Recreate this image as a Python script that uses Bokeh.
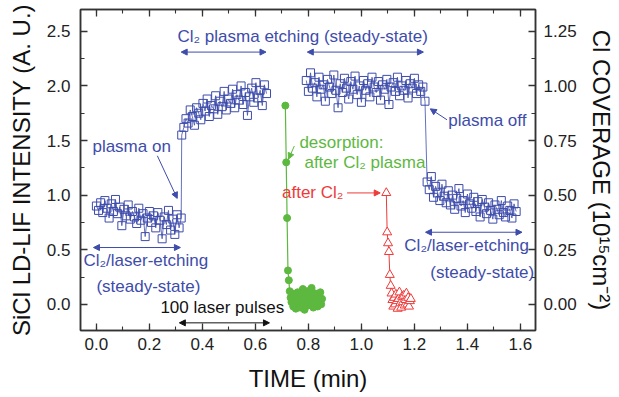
import numpy as np
from bokeh.plotting import figure
from bokeh.models import (Range1d, LinearAxis, SingleIntervalTicker, NumeralTickFormatter,
                          CustomJSTickFormatter, Label, Arrow, NormalHead, ColumnDataSource)
from bokeh.embed import file_html
from bokeh.resources import INLINE

FONT = "Liberation Sans"
BLUE = "#3e4cab"
GREEN = "#5db83f"
RED = "#ee3a3a"

# --- SiCl LD-LIF signal, Cl2/laser etching then plasma on (min, A.U.) ---
laser_t0, laser_dt = 0.000, 0.008
laser_vals = [0.90, 0.86, 0.93, 0.84, 0.95, 0.88, 0.79, 0.92, 0.85, 0.96, 0.83, 0.89,
              0.72, 0.87, 0.81, 0.91, 0.78, 0.85, 0.80, 0.74, 0.88, 0.77, 0.83, 0.62,
              0.79, 0.85, 0.75, 0.81, 0.70, 0.84, 0.77, 0.60, 0.80, 0.73, 0.86, 0.68,
              0.78, 0.64, 0.82, 0.70, 0.79]
plasma_t0, plasma_dt = 0.322, 0.008
plasma_vals = [1.55, 1.62, 1.70, 1.66, 1.78, 1.72, 1.64, 1.80, 1.75, 1.69, 1.84, 1.77,
               1.88, 1.72, 1.82, 1.79, 1.91, 1.74, 1.86, 1.81, 1.95, 1.78, 1.88, 1.84,
               1.97, 1.80, 1.92, 1.87, 2.00, 1.83, 1.94, 1.73, 1.90, 1.98, 1.85, 2.03,
               1.89, 1.96, 1.82, 2.01, 1.93]

# --- plasma etching (steady state) and plasma off ---
steady_t0, steady_dt = 0.792, 0.008
steady_vals = [2.05, 1.95, 2.12, 1.98, 2.03, 1.90, 2.08, 1.97, 2.01, 1.86, 2.06, 1.99,
               1.93, 2.10, 1.96, 1.80, 2.02, 1.94, 2.07, 1.98, 1.88, 2.04, 1.97, 2.09,
               1.92, 2.00, 1.85, 2.05, 1.96, 2.02, 1.90, 2.08, 1.99, 1.94, 2.04, 1.87,
               2.01, 1.97, 2.06, 1.83, 1.99, 2.03, 1.95, 2.08, 1.91, 2.00, 1.96, 2.05,
               1.89, 2.02, 1.98, 2.07, 1.93, 2.01, 1.95, 1.99, 1.86]
off_t0, off_dt = 1.248, 0.008
off_vals = [1.12, 1.05, 1.17, 0.98, 1.08, 1.02, 0.95, 1.10, 0.99, 0.93, 1.04, 0.91,
            1.00, 0.87, 0.97, 1.06, 0.90, 0.95, 0.84, 1.01, 0.92, 0.88, 0.98, 0.85,
            0.94, 0.80, 0.96, 0.89, 0.83, 0.93, 0.86, 0.78, 0.91, 0.87, 0.82, 0.95,
            0.84, 0.80, 0.90, 0.86, 0.79, 0.92, 0.85]

# --- desorption after Cl2 plasma (one point per laser pulse) ---
desorb_t0, pulse_dt = 0.713, 0.0033
desorb_vals = [1.82, 1.30, 0.79, 0.31, 0.22, 0.12, 0.06, 0.02, 0.10, -0.02, 0.05, 0.08,
               -0.04, 0.03, 0.11, 0.00, 0.06, -0.03, 0.09, 0.04, 0.14, 0.01, -0.05, 0.07,
               0.02, 0.12, -0.01, 0.05, 0.09, 0.00, 0.15, 0.03, -0.03, 0.06, 0.10, 0.01,
               0.04, -0.02, 0.08, 0.03, 0.11, 0.00, 0.05]

# --- desorption after Cl2 exposure only ---
cl2_t0 = 1.094
cl2_vals = [1.02, 0.66, 0.56, 0.48, 0.27, 0.17, 0.10, 0.04, -0.02, 0.06, 0.00, 0.09,
            0.03, -0.04, 0.05, 0.11, 0.01, -0.03, 0.07, 0.02, 0.08, -0.01, 0.04, 0.10,
            0.00, 0.06, -0.02, 0.03, 0.05]


def times(t0, dt, vals):
    return t0 + dt * np.arange(len(vals))


on_src = ColumnDataSource(dict(
    t=np.concatenate([times(laser_t0, laser_dt, laser_vals), times(plasma_t0, plasma_dt, plasma_vals)]),
    y=laser_vals + plasma_vals))
off_src = ColumnDataSource(dict(
    t=np.concatenate([times(steady_t0, steady_dt, steady_vals), times(off_t0, off_dt, off_vals)]),
    y=steady_vals + off_vals))
desorb_src = ColumnDataSource(dict(t=times(desorb_t0, pulse_dt, desorb_vals), y=desorb_vals))
cl2_src = ColumnDataSource(dict(t=times(cl2_t0, pulse_dt, cl2_vals), y=cl2_vals))

p = figure(width=619, height=397, x_range=Range1d(-0.06, 1.657), y_range=Range1d(-0.24, 2.70),
           output_backend="svg", toolbar_location=None,
           min_border_left=80, min_border_right=84, min_border_top=9, min_border_bottom=67)
p.grid.visible = False
p.outline_line_color = "#333333"
p.outline_line_width = 1.5
p.background_fill_color = "white"
p.border_fill_color = "white"
p.extra_y_ranges = {"cov": Range1d(-0.12, 1.35)}


def style_axis(ax, tick_font="17px"):
    ax.axis_line_color = "#333333"
    ax.axis_line_width = 1.5
    ax.major_tick_line_color = "#333333"
    ax.minor_tick_line_color = "#333333"
    ax.major_tick_line_width = 1.3
    ax.minor_tick_line_width = 1.1
    ax.major_tick_in = 7
    ax.major_tick_out = 0
    ax.minor_tick_in = 4
    ax.minor_tick_out = 0
    ax.major_label_text_font = FONT
    ax.major_label_text_font_size = tick_font
    ax.major_label_text_color = "#222222"
    ax.axis_label_text_font = FONT
    ax.axis_label_text_font_size = "24px"
    ax.axis_label_text_font_style = "normal"
    ax.axis_label_text_color = "#111111"


xa = p.xaxis[0]
xa.ticker = SingleIntervalTicker(interval=0.2, num_minor_ticks=2)
xa.formatter = NumeralTickFormatter(format="0.0")
xa.axis_label = "TIME (min)"
style_axis(xa)
xa.major_label_standoff = 7
xa.axis_label_standoff = 12

ya = p.yaxis[0]
ya.ticker = SingleIntervalTicker(interval=0.5, num_minor_ticks=2)
ya.formatter = NumeralTickFormatter(format="0.0")
ya.axis_label = "SiCl LD-LIF INTENSITY (A. U.)"
style_axis(ya)
ya.major_label_standoff = 10
ya.axis_label_standoff = 9

ra = LinearAxis(y_range_name="cov", axis_label="Cl COVERAGE (10¹⁵cm⁻²)",
                ticker=SingleIntervalTicker(interval=0.25, num_minor_ticks=2),
                formatter=NumeralTickFormatter(format="0.00"))
style_axis(ra)
ra.major_label_standoff = 8
ra.axis_label_standoff = 8
p.add_layout(ra, "right")

# top edge carries tick marks only
ta = LinearAxis(ticker=SingleIntervalTicker(interval=0.2, num_minor_ticks=2),
                formatter=CustomJSTickFormatter(code="return ''"))
style_axis(ta)
ta.major_label_standoff = 0
p.add_layout(ta, "above")

# data series
p.line("t", "y", source=on_src, color=BLUE, line_width=0.8)
p.scatter("t", "y", source=on_src, marker="square", size=8, line_color=BLUE, fill_alpha=0, line_width=1)
p.line("t", "y", source=off_src, color=BLUE, line_width=0.8)
p.scatter("t", "y", source=off_src, marker="square", size=8, line_color=BLUE, fill_alpha=0, line_width=1)
p.line("t", "y", source=desorb_src, color=GREEN, line_width=1.2)
p.scatter("t", "y", source=desorb_src, marker="circle", size=7, line_color=GREEN, fill_color=GREEN)
p.line("t", "y", source=cl2_src, color=RED, line_width=1)
p.scatter("t", "y", source=cl2_src, marker="triangle", size=9, line_color=RED, fill_color="white", line_width=1)

# annotation text
labels = [
    ("Cl₂ plasma etching (steady-state)", 0.306, 2.455, "left", BLUE),
    ("plasma on", -0.015, 1.445, "left", BLUE),
    ("plasma off", 1.328, 1.683, "left", BLUE),
    ("Cl₂/laser-etching", -0.049, 0.405, "left", BLUE),
    ("(steady-state)", 0.0, 0.165, "left", BLUE),
    ("Cl₂/laser-etching", 1.162, 0.54, "left", BLUE),
    ("(steady-state)", 1.26, 0.293, "left", BLUE),
    ("100 laser pulses", 0.2415, -0.025, "left", "#111111"),
    ("desorption:", 0.766, 1.482, "left", GREEN),
    ("after Cl₂ plasma", 0.785, 1.30, "left", GREEN),
    ("after Cl₂", 0.932, 1.025, "right", RED),
]
for txt, x, y, align, col in labels:
    p.add_layout(Label(x=x, y=y, text=txt, text_align=align, text_baseline="middle",
                       text_font=FONT, text_font_size="17px", text_color=col))

# arrows: (x0, y0, x1, y1, colour, double-headed)
arrows = [
    (0.32, 2.31, 0.64, 2.31, BLUE, True),
    (0.796, 2.31, 1.234, 2.31, BLUE, True),
    (0.23, 1.36, 0.305, 0.97, BLUE, False),
    (1.323, 1.69, 1.26, 1.79, BLUE, False),
    (-0.011, 0.52, 0.317, 0.52, BLUE, True),
    (1.242, 0.66, 1.606, 0.66, BLUE, True),
    (0.313, -0.17, 0.653, -0.17, "#111111", True),
    (0.747, 1.45, 0.725, 1.33, GREEN, False),
    (0.946, 1.02, 1.071, 1.02, RED, False),
]
for x0, y0, x1, y1, col, both in arrows:
    end = NormalHead(size=6, fill_color=col, line_color=col)
    start = NormalHead(size=6, fill_color=col, line_color=col) if both else None
    p.add_layout(Arrow(x_start=x0, y_start=y0, x_end=x1, y_end=y1, start=start, end=end,
                       line_color=col, line_width=1))

open("out.html", "w").write(file_html(p, INLINE))
